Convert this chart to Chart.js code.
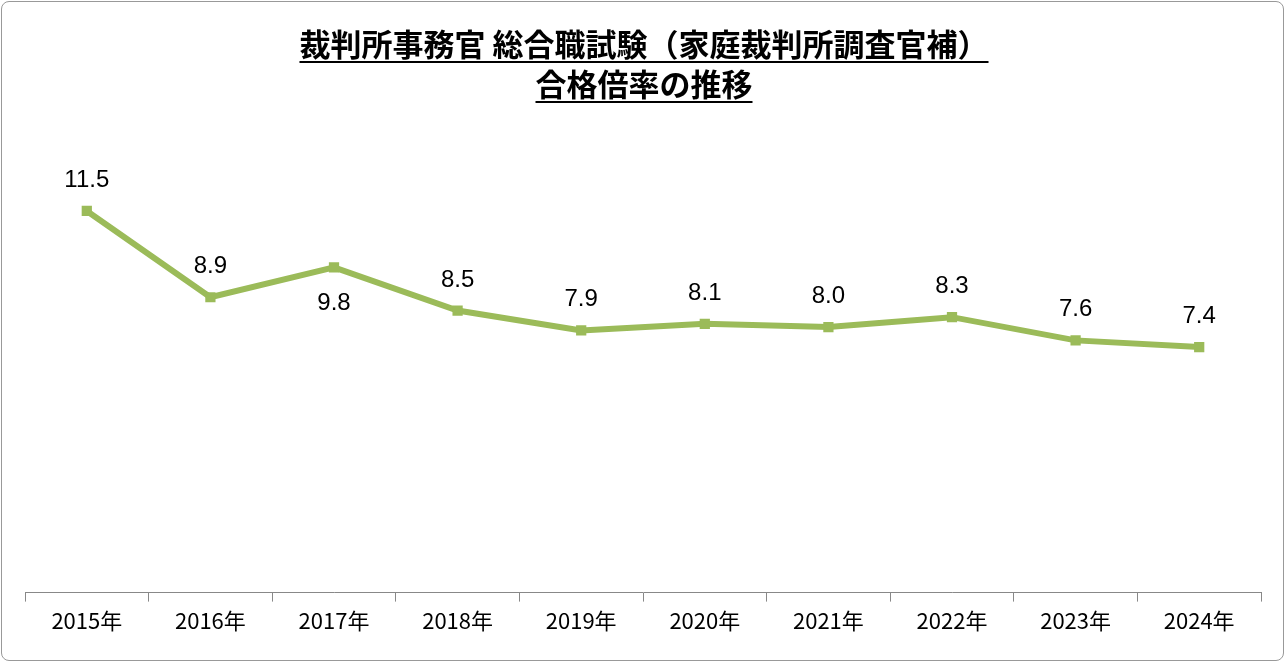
<!DOCTYPE html>
<html><head><meta charset="utf-8">
<script src="https://cdn.jsdelivr.net/npm/chart.js@4"></script>
<style>
html,body{margin:0;padding:0;background:#fff;}
#wrap{position:absolute;left:1px;top:1px;width:1281px;height:658px;border:1px solid #999;border-radius:8px;}
canvas{display:block;}
</style></head><body>
<div id="wrap"><canvas id="c" width="1281" height="658"></canvas></div>
<script>
const categories=["2015年","2016年","2017年","2018年","2019年","2020年","2021年","2022年","2023年","2024年"];
const ratios=[11.5,8.9,9.8,8.5,7.9,8.1,8.0,8.3,7.6,7.4];
const titleLines=["裁判所事務官 総合職試験（家庭裁判所調査官補）","合格倍率の推移"];
const belowIdx=[2];
const FONT='"Noto Sans CJK JP","Noto Sans",sans-serif';
const deco={id:'deco',afterDraw(ch){
 const c=ch.ctx;c.save();
 c.fillStyle='#000';c.strokeStyle='#000';c.lineWidth=2;
 c.font='bold 31px '+FONT;c.textAlign='center';c.textBaseline='alphabetic';
 titleLines.forEach((t,i)=>{const y=54+i*40;c.fillText(t,642,y);const w=c.measureText(t).width;
  c.beginPath();c.moveTo(642-w/2,y+6);c.lineTo(642+w/2,y+6);c.stroke();});
 const m=ch.getDatasetMeta(0);c.font='24px "Liberation Sans",Arial,sans-serif';
 m.data.forEach((p,i)=>{const b=belowIdx.includes(i);c.fillText(ratios[i].toFixed(1),p.x,b?p.y+43:p.y-24);});
 c.restore();}};
new Chart(document.getElementById('c'),{type:'line',
 data:{labels:categories,datasets:[{data:ratios,borderColor:'#9BBB59',backgroundColor:'#9BBB59',borderWidth:6,
  pointStyle:'rect',pointRadius:3,tension:0}]},
 options:{responsive:false,animation:false,
  layout:{padding:{top:126,left:23,right:22,bottom:20}},
  plugins:{legend:{display:false},tooltip:{enabled:false}},
  scales:{y:{display:false,min:0,max:14},
   x:{offset:true,grid:{offset:true,drawOnChartArea:false,tickLength:9,color:'#888'},border:{color:'#888'},
    ticks:{color:'#000',font:{size:22,family:FONT},padding:6}}}},
 plugins:[deco]});
</script></body></html>
